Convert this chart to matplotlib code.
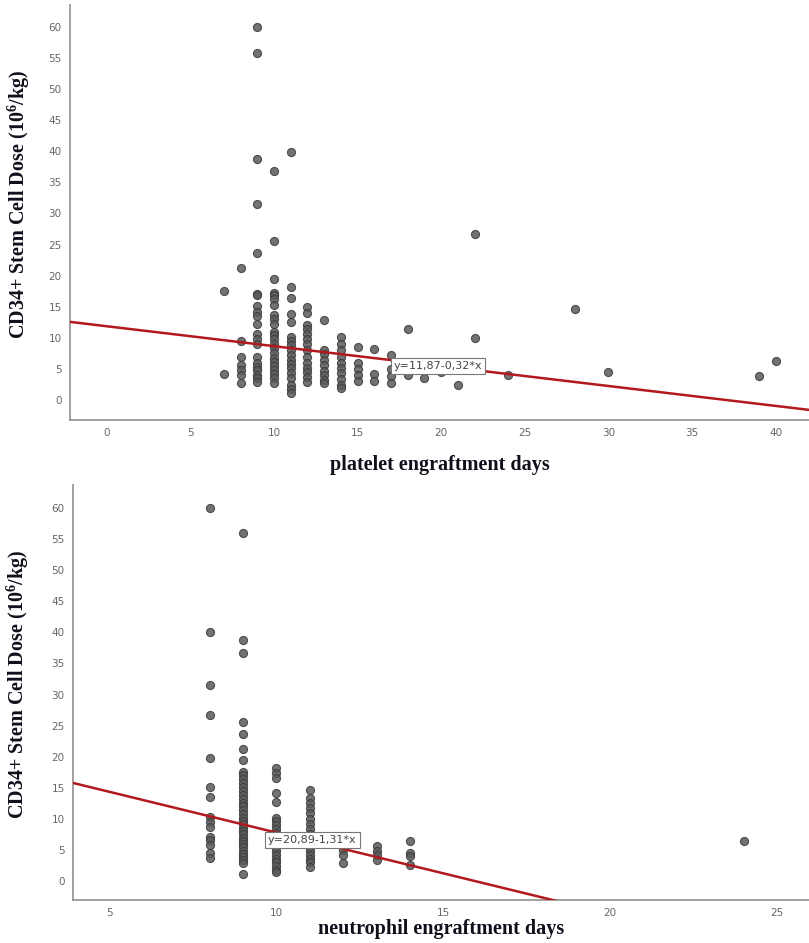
import numpy as np
import matplotlib
matplotlib.use('Agg')
import matplotlib.pyplot as plt

# --- dados ---
# painel superior: dias de enxertia plaquetária x dose CD34+
plt_x_7 = [17.6, 4.2]
plt_x_8 = [21.3, 9.5, 7.0, 5.6, 4.8, 4.0, 2.8]
plt_x_9 = [59.9, 55.8, 38.8, 31.5, 23.7, 17.1, 16.9, 15.1, 14.2, 13.5, 12.3,
           10.6, 9.9, 9.0, 7.0, 6.0, 5.3, 4.8, 4.1, 3.5, 2.9]
plt_x_10 = [36.8, 25.6, 19.5, 17.2, 16.9, 16.2, 15.3, 13.6, 13.0, 12.3, 11.0,
            10.4, 9.8, 9.0, 8.3, 7.5, 6.8, 6.2, 5.5, 4.8, 4.2, 3.5, 2.8]
plt_x_11 = [39.9, 18.1, 16.4, 13.8, 12.5, 10.2, 9.5, 8.8, 8.0, 7.3, 6.5,
            5.8, 5.1, 4.4, 3.6, 2.5, 1.8, 1.2]
plt_x_12 = [15.0, 14.0, 12.0, 11.4, 10.6, 9.8, 9.0, 8.0, 7.0, 6.0, 5.2,
            4.5, 3.7, 2.9]
plt_x_13 = [12.8, 8.0, 7.4, 6.5, 5.6, 4.7, 4.0, 3.3, 2.8]
plt_x_14 = [10.2, 9.0, 8.0, 7.0, 6.0, 5.2, 4.3, 3.4, 2.5, 1.9]
plt_x_15 = [8.5, 6.0, 5.0, 4.0, 3.0]
plt_x_16 = [8.2, 4.2, 3.0]
plt_x_17 = [7.2, 5.0, 3.8, 2.7]
plt_outros_x = [18, 18, 19, 20, 21, 22, 22, 24, 28, 30, 39, 40]
plt_outros_y = [11.5, 4.0, 3.5, 4.5, 2.5, 26.7, 10.0, 4.0, 14.6, 4.5, 3.9, 6.3]

# painel inferior: dias de enxertia neutrofílica x dose CD34+
neu_x_8 = [60.0, 40.0, 31.5, 26.7, 19.8, 15.1, 13.5, 10.3, 9.5, 8.7, 7.1,
           6.6, 5.8, 4.5, 3.7]
neu_x_9 = [55.9, 38.8, 36.7, 25.6, 23.7, 21.3, 19.5, 17.5, 17.0, 16.4, 15.8,
           15.2, 14.5, 13.8, 13.2, 12.6, 12.0, 11.4, 10.8, 10.2, 9.7, 9.2,
           8.6, 8.0, 7.5, 7.0, 6.4, 5.9, 5.4, 4.9, 4.4, 3.9, 3.4, 2.9, 1.2]
neu_x_10 = [18.2, 17.3, 16.5, 14.2, 12.7, 10.2, 9.6, 9.0, 8.4, 7.8, 7.2,
            6.0, 5.4, 4.8, 4.2, 3.6, 3.0, 2.4, 1.8, 1.5]
neu_x_11 = [14.6, 13.3, 12.5, 11.7, 10.9, 10.0, 9.2, 8.4, 7.6, 6.8, 6.0,
            5.4, 4.8, 4.2, 3.6, 3.0, 2.3]
neu_x_12 = [6.2, 5.0, 4.2, 2.9]
neu_x_13 = [5.6, 4.9, 4.2, 3.4]
neu_x_14 = [6.4, 4.5, 4.0, 2.6]
neu_outros_x = [24]
neu_outros_y = [6.4]

# retas de regressão (do próprio gráfico)
plt_a, plt_b = 11.87, -0.32
neu_a, neu_b = 20.89, -1.31
plt_rotulo = 'y=11,87-0,32*x'
neu_rotulo = 'y=20,89-1,31*x'

plt_xticks = [0, 5, 10, 15, 20, 25, 30, 35, 40]
neu_xticks = [5, 10, 15, 20, 25]
yticks = [0, 5, 10, 15, 20, 25, 30, 35, 40, 45, 50, 55, 60]

ylabel = 'CD34+ Stem Cell Dose (10$^{6}$/kg)'


def montar(colunas, outros_x, outros_y):
    xs, ys = [], []
    for dia, vals in colunas:
        xs += [dia] * len(vals)
        ys += vals
    return np.array(xs + outros_x, dtype=float), np.array(ys + outros_y)


px, py = montar([(7, plt_x_7), (8, plt_x_8), (9, plt_x_9), (10, plt_x_10),
                 (11, plt_x_11), (12, plt_x_12), (13, plt_x_13), (14, plt_x_14),
                 (15, plt_x_15), (16, plt_x_16), (17, plt_x_17)],
                plt_outros_x, plt_outros_y)
nx, ny = montar([(8, neu_x_8), (9, neu_x_9), (10, neu_x_10), (11, neu_x_11),
                 (12, neu_x_12), (13, neu_x_13), (14, neu_x_14)],
                neu_outros_x, neu_outros_y)

plt.rcParams['mathtext.fontset'] = 'custom'
plt.rcParams['mathtext.rm'] = 'Liberation Serif:bold'
plt.rcParams['mathtext.bf'] = 'Liberation Serif:bold'
plt.rcParams['mathtext.default'] = 'bf'

fig = plt.figure(figsize=(8.09, 9.43), dpi=100)
ax1 = fig.add_axes([0.0865, 0.5546, 0.9135, 0.4401])
ax2 = fig.add_axes([0.0902, 0.0456, 0.9098, 0.4401])

COR_PONTO = '#5a5a5a'
COR_BORDA = '#3a3a3a'
COR_RETA = '#b3191c'
COR_TITULO = '#10101c'


def painel(ax, x, y, a, b, xlim, xticks, rotulo, pos_rot, xlabel, lab_x, lab_y):
    ax.scatter(x, y, s=34, c=COR_PONTO, edgecolors=COR_BORDA, linewidths=0.8,
               alpha=0.85, zorder=2)
    xx = np.array(xlim)
    ax.plot(xx, a + b * xx, color=COR_RETA, lw=1.8, zorder=3)
    ax.text(pos_rot[0], pos_rot[1], rotulo, ha='left', va='center',
            fontsize=8, color='#444444', zorder=4,
            bbox=dict(boxstyle='square,pad=0.25', fc='white', ec='#777777', lw=0.8))
    ax.set_xlim(xlim)
    ax.set_ylim(-3.2, 63.5)
    ax.set_xticks(xticks)
    ax.set_yticks(yticks)
    ax.tick_params(length=0, labelsize=7.5, labelcolor='#666666', pad=6)
    for lado in ['top', 'right']:
        ax.spines[lado].set_visible(False)
    for lado in ['left', 'bottom']:
        ax.spines[lado].set_color('#999999')
        ax.spines[lado].set_linewidth(1.3)
    ax.set_xlabel(xlabel, family='Liberation Serif', fontweight='bold',
                  fontsize=14.5, color=COR_TITULO, va='center')
    ax.xaxis.set_label_coords(0.5, lab_x)
    ax.set_ylabel(ylabel, family='Liberation Serif', fontweight='bold',
                  fontsize=14.5, color=COR_TITULO, va='center')
    ax.yaxis.set_label_coords(lab_y, 0.52)


painel(ax1, px, py, plt_a, plt_b, (-2.2, 42.0), plt_xticks, plt_rotulo,
       (17.15, 5.5), 'platelet engraftment days', -0.108, -0.069)
painel(ax2, nx, ny, neu_a, neu_b, (3.9, 25.96), neu_xticks, neu_rotulo,
       (9.75, 6.6), 'neutrophil engraftment days', -0.07, -0.075)
ax2.set_ylim(-3.05, 63.7)

plt.savefig('out.png', dpi=100, facecolor='white')
plt.close(fig)
